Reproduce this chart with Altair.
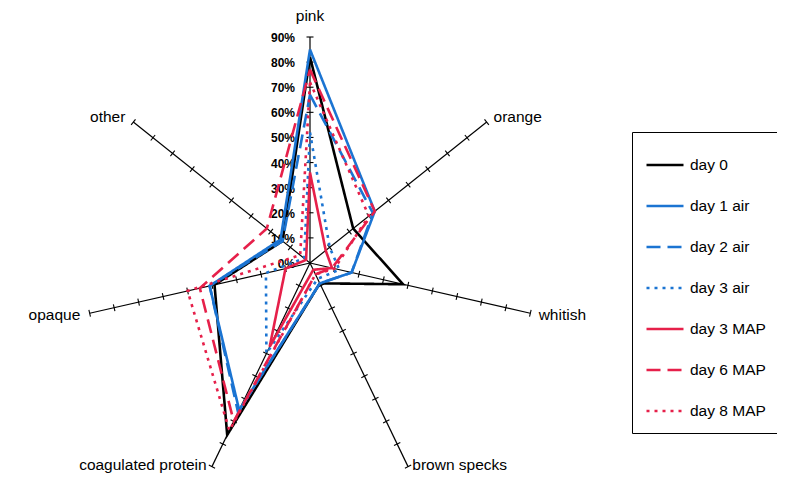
import math
import pandas as pd
import altair as alt

# ---- data ----
categories = ["pink", "orange", "whitish", "brown specks",
              "coagulated protein", "opaque", "other"]
series_names = ["day 0", "day 1 air", "day 2 air", "day 3 air",
                "day 3 MAP", "day 6 MAP", "day 8 MAP"]
day0 = [82, 22, 38, 9, 76, 39, 14]
day1_air = [85, 33, 17, 9, 65, 41, 15]
day2_air = [67, 32, 17, 9, 66, 41, 14]
day3_air = [52, 10, 12, 7, 40, 18, 3]
day3_map = [36, 8, 9, 3, 37, 10, 2]
day6_map = [77, 33, 9, 5, 70, 45, 22]
day8_map = [72, 30, 10, 5, 74, 50, 5]
series_values = [day0, day1_air, day2_air, day3_air, day3_map, day6_map, day8_map]
tick_values = [0, 10, 20, 30, 40, 50, 60, 70, 80, 90]
tick_labels = [f"{v}%" for v in tick_values]

colors = ["#000000", "#1b74d2", "#1b74d2", "#1b74d2", "#e6204a", "#e6204a", "#e6204a"]
dashes = [[1, 0], [1, 0], [14, 7], [3, 5], [1, 0], [14, 7], [3, 5]]

# ---- geometry (scale setup) ----
RMAX = 90
K = 226 / 90          # px per percent
W, H = 769, 466
CX, CY = 302, 255     # centre in plot pixels
xdom = [-CX / K, (W - CX) / K]
ydom = [-(H - CY) / K, CY / K]
n = len(categories)
angles = [i * 360 / n for i in range(n)]


def pol(r, a):
    t = math.radians(a)
    return r * math.sin(t), r * math.cos(t)


rows = []
for s, vals in zip(series_names, series_values):
    for j in range(n + 1):
        i = j % n
        x, y = pol(vals[i], angles[i])
        rows.append({"series": s, "idx": j, "x": x, "y": y, "cat": categories[i], "value": vals[i]})
lines_df = pd.DataFrame(rows)

axis_rows = []
for c, a in zip(categories, angles):
    x, y = pol(RMAX, a)
    axis_rows.append({"cat": c, "x0": 0.0, "y0": 0.0, "x": x, "y": y})
axis_df = pd.DataFrame(axis_rows)

tick_rows = []
for c, a in zip(categories, angles):
    for v in tick_values[1:]:
        x, y = pol(v, a)
        tick_rows.append({"cat": c, "x": x, "y": y, "ang": a})
tick_df = pd.DataFrame(tick_rows)

pct_df = pd.DataFrame({"x": [0.0] * len(tick_values), "y": tick_values, "t": tick_labels})

lab_rows = []
for c, a in zip(categories, angles):
    x, y = pol(RMAX + 3, a)
    if c == "pink":
        side = "center"
    elif a < 180:
        side = "left"
    else:
        side = "right"
    low = 140 < a < 220
    lab_rows.append({"cat": c, "x": x, "y": y, "side": side, "low": low})
lab_df = pd.DataFrame(lab_rows)

X = lambda f: alt.X(f, scale=alt.Scale(domain=xdom, nice=False, zero=False), axis=None)
Y = lambda f: alt.Y(f, scale=alt.Scale(domain=ydom, nice=False, zero=False), axis=None)
FONT = "Liberation Sans"

axes = alt.Chart(axis_df).mark_rule(color="black", strokeWidth=1.2).encode(
    x=X("x0:Q"), y=Y("y0:Q"), x2="x:Q", y2="y:Q")

ticks = alt.Chart(tick_df).mark_point(shape="stroke", size=49, color="black",
                                      strokeWidth=1.1, filled=False, opacity=1).encode(
    x=X("x:Q"), y=Y("y:Q"), angle=alt.Angle("ang:Q", scale=None))

pct = alt.Chart(pct_df).mark_text(align="right", baseline="middle", dx=-15, dy=1,
                                  fontSize=12, fontWeight="bold", font=FONT,
                                  color="black").encode(
    x=X("x:Q"), y=Y("y:Q"), text="t:N")


def lab(side, low, align, dx, dy):
    return alt.Chart(lab_df).transform_filter(
        f"datum.side == '{side}' && datum.low == {str(low).lower()}"
    ).mark_text(align=align, baseline="middle", dx=dx, dy=dy, fontSize=15.5,
                font=FONT, color="black").encode(x=X("x:Q"), y=Y("y:Q"), text="cat:N")


lab_c = lab("center", False, "center", 0, -13)
lab_l = lab("left", False, "left", 1, 0)
lab_lb = lab("left", True, "left", 1, -8)
lab_r = lab("right", False, "right", -2, 0)
lab_rb = lab("right", True, "right", -2, -8)

leg = alt.Legend(orient="none", legendX=624, legendY=124, title=None)

lines = alt.Chart(lines_df).mark_line(strokeWidth=2.6).encode(
    x=X("x:Q"), y=Y("y:Q"),
    color=alt.Color("series:N", scale=alt.Scale(domain=series_names, range=colors), legend=leg),
    strokeDash=alt.StrokeDash("series:N", scale=alt.Scale(domain=series_names, range=dashes), legend=leg),
    order="idx:Q",
)

chart = alt.layer(axes, ticks, pct, lab_c, lab_l, lab_lb, lab_r, lab_rb, lines).properties(
    width=W, height=H, padding=0, autosize="none"
).configure_view(stroke=None).configure_legend(
    symbolType="stroke", symbolSize=1369, symbolStrokeWidth=2.6,
    labelFontSize=15.5, labelFont=FONT, labelColor="black", labelOffset=5,
    rowPadding=12, padding=13, strokeColor="black", strokeWidth=1,
    cornerRadius=0, fillColor="white", labelLimit=200,
)

chart.save("out.html", embed_options={"renderer": "svg", "actions": False})
